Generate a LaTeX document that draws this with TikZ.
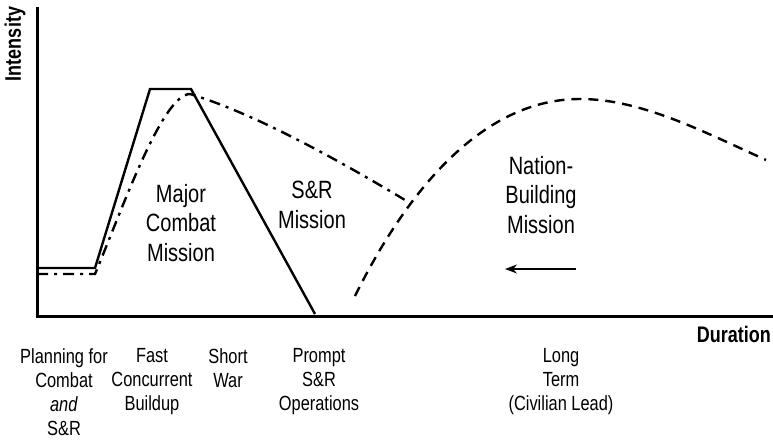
\documentclass[tikz,border=0pt]{standalone}
\usepackage{fontspec}
\setmainfont[FakeStretch=0.8]{Liberation Sans}
\usetikzlibrary{arrows.meta}
\begin{document}
\begin{tikzpicture}[x=1pt,y=-1pt,
  axis/.style={line width=3pt},
  solidcurve/.style={line width=2.4pt,line join=miter},
  dashdotcurve/.style={line width=2.4pt,dash pattern=on 11pt off 6pt on 3pt off 6pt},
  dashcurve/.style={line width=2.4pt,dash pattern=on 10pt off 7pt},
  biglbl/.style={align=center,font=\fontsize{25}{29.5}\selectfont,inner sep=0pt,anchor=north},
  smalllbl/.style={align=center,font=\fontsize{20.5}{24}\selectfont,inner sep=0pt,anchor=north},
  axislbl/.style={font=\bfseries\fontsize{22.5}{24}\selectfont,inner sep=0pt}]
\useasboundingbox (0,0) rectangle (773,439);
% axes
\coordinate (top) at (37,8);
\coordinate (origin) at (37,316);
\coordinate (right) at (773,316);
\draw[axis,line cap=rect] (top) -- (origin) -- (right);
\node[axislbl,rotate=90] (intensity) at (15,44) {Intensity};
\node[axislbl,anchor=east] (duration) at (771,334) {Duration};
% solid major combat
\coordinate (s0) at (37,268);
\coordinate (s1) at (95,268);
\coordinate (s2) at (150,89);
\coordinate (s3) at (191,89);
\coordinate (s4) at (315,314);
\draw[solidcurve] (s0) -- (s1) -- (s2) -- (s3) -- (s4);
% dash-dot S&R
\coordinate (d0) at (37,274);
\coordinate (d1) at (95,274);
\coordinate (d2) at (190,94);
\coordinate (d3) at (405,200);
\draw[dashdotcurve] (d0) -- (d1) .. controls (120,215) and (162,94) .. (d2) .. controls (250,112) and (330,155) .. (d3);
% dashed nation building
\coordinate (n0) at (355,296);
\coordinate (n1) at (580,99);
\coordinate (n2) at (766,160);
\draw[dashcurve] (n0) .. controls (405,195) and (480,99) .. (n1) .. controls (640,99) and (700,130) .. (n2);
% arrow
\coordinate (a0) at (576,269);
\coordinate (a1) at (505,269);
\draw[line width=1.3pt,-{Stealth[length=12pt,width=9pt]}] (a0) -- (a1);
% mission labels
\node[biglbl] (major) at (181,184) {Major\\Combat\\Mission};
\node[biglbl] (sr) at (312,181) {S\&R\\Mission};
\node[biglbl] (nation) at (541,156) {Nation-\\Building\\Mission};
% bottom labels
\node[smalllbl] (plan) at (64,348) {Planning for\\Combat\\\textit{and}\\S\&R};
\node[smalllbl] (fast) at (152,348) {Fast\\Concurrent\\Buildup};
\node[smalllbl] (short) at (228,348) {Short\\War};
\node[smalllbl] (prompt) at (319,348) {Prompt\\S\&R\\Operations};
\node[smalllbl] (long) at (561,348) {Long\\Term\\(Civilian Lead)};
\end{tikzpicture}
\end{document}
